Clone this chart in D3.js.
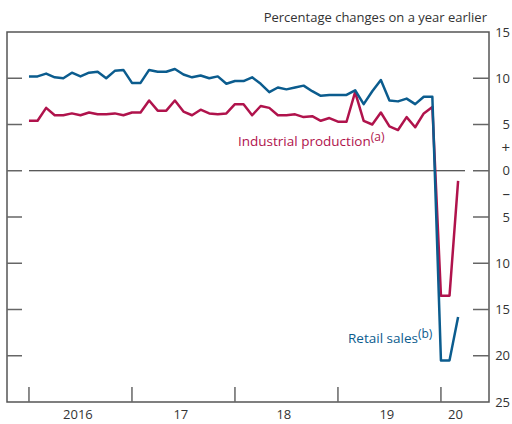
<!DOCTYPE html>
<head>
<meta charset="utf-8">
<title>Retail sales and industrial production</title>
</head>
<style>
body { margin: 0; background: #fff; }
svg text { font-family: "Open Sans", sans-serif; }
</style>
<body>
<script src="https://cdn.jsdelivr.net/npm/d3@7"></script>
<script>

// monthly, Jan 2016 = index 0 (Jan and Feb are combined figures, so they repeat)
var retailSales = [
  10.2, 10.2, 10.5, 10.1, 10.0, 10.6, 10.2, 10.6, 10.7, 10.0, 10.8, 10.9,
  9.5, 9.5, 10.9, 10.7, 10.7, 11.0, 10.4, 10.1, 10.3, 10.0, 10.2, 9.4,
  9.7, 9.7, 10.1, 9.4, 8.5, 9.0, 8.8, 9.0, 9.2, 8.6, 8.1, 8.2,
  8.2, 8.2, 8.7, 7.2, 8.6, 9.8, 7.6, 7.5, 7.8, 7.2, 8.0, 8.0,
  -20.5, -20.5, -15.8
];
var industrialProduction = [
  5.4, 5.4, 6.8, 6.0, 6.0, 6.2, 6.0, 6.3, 6.1, 6.1, 6.2, 6.0,
  6.3, 6.3, 7.6, 6.5, 6.5, 7.6, 6.4, 6.0, 6.6, 6.2, 6.1, 6.2,
  7.2, 7.2, 6.0, 7.0, 6.8, 6.0, 6.0, 6.1, 5.8, 5.9, 5.4, 5.7,
  5.3, 5.3, 8.5, 5.4, 5.0, 6.3, 4.8, 4.4, 5.8, 4.7, 6.2, 6.9,
  -13.5, -13.5, -1.1
];
var yearStarts = [0, 12, 24, 36, 48];
var yearLabels = ["2016", "17", "18", "19", "20"];
var yearLabelPos = [5.7, 17.7, 29.7, 41.7, 49.7];
var yTicks = [10, 5, 0, -5, -10, -15, -20];
var yLabels = [15, 10, 5, 0, -5, -10, -15, -20, -25];

var blue = "#0b5c8e", red = "#b0134c", grid = "#666";

var svg = d3.select("body").append("svg")
  .attr("width", 512)
  .attr("height", 424);

var m = {left: 7, right: 489, top: 32, bottom: 402};

var x = d3.scaleLinear().domain([-2.56, 53.6]).range([m.left, m.right]);
var y = d3.scaleLinear().domain([15, -25]).range([m.top, m.bottom]);

// title
svg.append("text")
  .attr("x", 487).attr("y", 22)
  .attr("text-anchor", "end")
  .style("font-size", "13px")
  .style("fill", "#333")
  .text("Percentage changes on a year earlier");

// frame
svg.append("rect")
  .attr("x", m.left).attr("y", m.top)
  .attr("width", m.right - m.left).attr("height", m.bottom - m.top)
  .attr("fill", "none")
  .attr("stroke", "#555")
  .attr("stroke-width", 1.5);

// y ticks on both sides
svg.append("g").selectAll("line")
  .data(yTicks).enter().append("line")
  .attr("x1", m.left).attr("x2", m.left + 15)
  .attr("y1", function(d) { return y(d); })
  .attr("y2", function(d) { return y(d); })
  .attr("stroke", grid).attr("stroke-width", 1.5);

svg.append("g").selectAll("line")
  .data(yTicks).enter().append("line")
  .attr("x1", m.right - 16).attr("x2", m.right)
  .attr("y1", function(d) { return y(d); })
  .attr("y2", function(d) { return y(d); })
  .attr("stroke", grid).attr("stroke-width", 1.5);

// zero line
svg.append("line")
  .attr("x1", m.left + 22).attr("x2", m.right - 24)
  .attr("y1", y(0)).attr("y2", y(0))
  .attr("stroke", "#222").attr("stroke-width", 1.2);

// right axis labels
svg.append("g").selectAll("text")
  .data(yLabels).enter().append("text")
  .attr("x", 510)
  .attr("y", function(d) { return y(d); })
  .attr("dy", "0.35em")
  .attr("text-anchor", "end")
  .style("font-size", "13px")
  .style("fill", "#333")
  .text(function(d) { return Math.abs(d); });

svg.append("text")
  .attr("x", 510).attr("y", y(2.5)).attr("dy", "0.35em")
  .attr("text-anchor", "end")
  .style("font-size", "15px").style("fill", "#333")
  .text("+");
svg.append("text")
  .attr("x", 510).attr("y", y(-2.5)).attr("dy", "0.35em")
  .attr("text-anchor", "end")
  .style("font-size", "15px").style("fill", "#333")
  .text("\u2013");

// x ticks
svg.append("g").selectAll("line")
  .data(yearStarts).enter().append("line")
  .attr("x1", function(d) { return x(d); })
  .attr("x2", function(d) { return x(d); })
  .attr("y1", m.bottom - 15).attr("y2", m.bottom)
  .attr("stroke", grid).attr("stroke-width", 1.5);

svg.append("g").selectAll("text")
  .data(yearLabels).enter().append("text")
  .attr("x", function(d, i) { return x(yearLabelPos[i]); })
  .attr("y", 419)
  .attr("text-anchor", "middle")
  .style("font-size", "13px")
  .style("fill", "#333")
  .text(function(d) { return d; });

// lines
var line = d3.line()
  .x(function(d, i) { return x(i); })
  .y(function(d) { return y(d); });

svg.append("path")
  .datum(industrialProduction)
  .attr("d", line)
  .attr("fill", "none")
  .attr("stroke", red)
  .attr("stroke-width", 2.5)
  .attr("stroke-linejoin", "round");

svg.append("path")
  .datum(retailSales)
  .attr("d", line)
  .attr("fill", "none")
  .attr("stroke", blue)
  .attr("stroke-width", 2.5)
  .attr("stroke-linejoin", "round");

// series labels
var ip = svg.append("text")
  .attr("x", 238).attr("y", 146)
  .style("font-size", "13.5px")
  .style("fill", red);
ip.append("tspan").text("Industrial production");
ip.append("tspan").attr("dy", -5).style("font-size", "12px").text("(a)");

var rs = svg.append("text")
  .attr("x", 348).attr("y", 343)
  .style("font-size", "13.5px")
  .style("fill", blue);
rs.append("tspan").text("Retail sales");
rs.append("tspan").attr("dy", -5).style("font-size", "12px").text("(b)");

</script>
</body>
